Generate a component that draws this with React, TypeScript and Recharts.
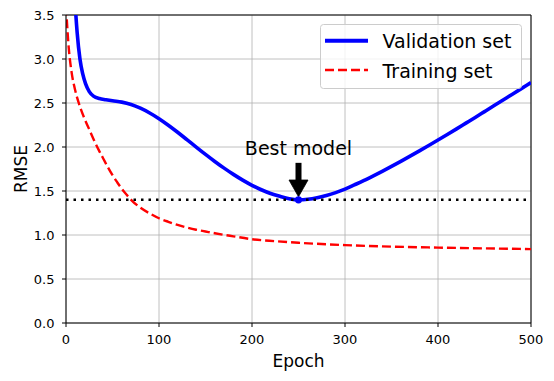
import React from 'react';
import { LineChart, Line, XAxis, YAxis, CartesianGrid, ReferenceLine, ReferenceDot, Legend } from 'recharts';

const validationEpochs = [6, 8, 10, 12, 15, 18, 21, 25, 30, 36, 43, 50, 60, 70, 80, 90, 100, 110, 120, 130, 140, 150, 160, 170, 180, 190, 200, 210, 220, 230, 240, 250, 260, 270, 280, 290, 300, 310, 320, 330, 340, 350, 360, 370, 380, 390, 400, 410, 420, 430, 440, 450, 460, 470, 480, 490, 500];
const validationRmse = [4.6, 4.0, 3.6, 3.3, 3.0, 2.83, 2.72, 2.63, 2.575, 2.55, 2.537, 2.525, 2.51, 2.483, 2.441, 2.387, 2.322, 2.248, 2.168, 2.084, 1.999, 1.916, 1.836, 1.76, 1.689, 1.624, 1.565, 1.514, 1.472, 1.44, 1.413, 1.4, 1.406, 1.423, 1.449, 1.482, 1.522, 1.569, 1.617, 1.669, 1.723, 1.779, 1.837, 1.896, 1.956, 2.017, 2.079, 2.142, 2.206, 2.271, 2.336, 2.402, 2.468, 2.534, 2.6, 2.666, 2.732];

const trainingEpochs = [0, 3, 6, 10, 15, 20, 25, 30, 35, 40, 45, 50, 55, 60, 65, 70, 80, 90, 100, 110, 120, 130, 140, 150, 160, 180, 200, 225, 250, 300, 350, 400, 450, 500];
const trainingRmse = [3.6, 3.12, 2.85, 2.64, 2.46, 2.32, 2.2, 2.08, 1.97, 1.87, 1.77, 1.68, 1.6, 1.525, 1.46, 1.4, 1.31, 1.245, 1.19, 1.15, 1.115, 1.085, 1.06, 1.04, 1.02, 0.985, 0.952, 0.93, 0.912, 0.885, 0.868, 0.857, 0.848, 0.84];

const xTicks = [0, 100, 200, 300, 400, 500];
const yTicks = [0, 0.5, 1.0, 1.5, 2.0, 2.5, 3.0, 3.5];
const seriesNames = ['Validation set', 'Training set'];
const seriesColors = ['#0000ff', '#ff0000'];
const xLabel = 'Epoch';
const yLabel = 'RMSE';

const bestEpoch = 250;
const bestRmse = 1.4;
const annotationText = 'Best model';
const annotationTextY = 1.91;
const arrowTopY = 1.82;
const arrowHeadBaseY = 1.625;
const arrowTipY = 1.435;

const validationData = validationEpochs.map((e, i) => ({ epoch: e, rmse: validationRmse[i] }));
const trainingData = trainingEpochs.map((e, i) => ({ epoch: e, rmse: trainingRmse[i] }));

const FONT = 'DejaVu Sans';

const XTitle = (props: any) => {
  const { viewBox } = props;
  if (!viewBox) return null;
  return (
    <text x={viewBox.x + viewBox.width / 2} y={viewBox.y + 44} textAnchor="middle" fontSize={17} fontFamily={FONT} fill="#000">
      {xLabel}
    </text>
  );
};

const YTitle = (props: any) => {
  const { viewBox } = props;
  if (!viewBox) return null;
  const cx = viewBox.x + 27;
  const cy = viewBox.y + viewBox.height / 2;
  return (
    <text x={cx} y={cy} transform={`rotate(-90 ${cx} ${cy})`} textAnchor="middle" fontSize={17} fontFamily={FONT} fill="#000">
      {yLabel}
    </text>
  );
};

const LegendBox = () => (
  <svg width={202} height={65} style={{ display: 'block' }}>
    <rect x={0.5} y={0.5} width={201} height={64} rx={3} ry={3} fill="rgba(255,255,255,0.8)" stroke="#cccccc" strokeWidth={1} />
    <line x1={5} x2={48} y1={16.7} y2={16.7} stroke={seriesColors[0]} strokeWidth={4} />
    <text x={62.5} y={24.3} fontSize={19} fontFamily={FONT} fill="#000">{seriesNames[0]}</text>
    <line x1={5} x2={48} y1={46} y2={46} stroke={seriesColors[1]} strokeWidth={2.5} strokeDasharray="9 4" />
    <text x={62.5} y={53.7} fontSize={19} fontFamily={FONT} fill="#000">{seriesNames[1]}</text>
  </svg>
);

export default function App() {
  return (
    <div style={{ position: 'absolute', left: 0, top: 0, background: '#fff' }}>
      <LineChart width={554} height={381} margin={{ top: 15, right: 23, bottom: 0, left: 0 }} style={{ fontFamily: FONT }}>
        <CartesianGrid stroke="#b0b0b0" strokeWidth={0.8} />
        <XAxis
          dataKey="epoch"
          type="number"
          domain={[0, 500]}
          ticks={xTicks}
          allowDataOverflow
          height={58}
          tickSize={4}
          tickMargin={8}
          stroke="#000"
          tick={{ fill: '#000', fontSize: 13, fontFamily: FONT }}
          label={<XTitle />}
        />
        <YAxis
          type="number"
          domain={[0, 3.5]}
          ticks={yTicks}
          allowDataOverflow
          width={66}
          tickSize={4}
          tickMargin={7.5}
          stroke="#000"
          tick={{ fill: '#000', fontSize: 13, fontFamily: FONT }}
          tickFormatter={(v: number) => v.toFixed(1)}
          label={<YTitle />}
        />
        <ReferenceLine y={3.5} stroke="#000" strokeWidth={1} />
        <ReferenceLine x={500} stroke="#000" strokeWidth={1} />
        <Line
          data={validationData}
          dataKey="rmse"
          name={seriesNames[0]}
          type="monotone"
          stroke={seriesColors[0]}
          strokeWidth={3.6}
          dot={false}
          activeDot={false}
          isAnimationActive={false}
        />
        <Line
          data={trainingData}
          dataKey="rmse"
          name={seriesNames[1]}
          type="monotone"
          stroke={seriesColors[1]}
          strokeWidth={2.4}
          strokeDasharray="9 4"
          dot={false}
          activeDot={false}
          isAnimationActive={false}
        />
        <ReferenceLine y={bestRmse} stroke="#000" strokeWidth={2.5} strokeDasharray="2.5 5" />
        <ReferenceLine
          segment={[{ x: bestEpoch, y: arrowTopY }, { x: bestEpoch, y: arrowHeadBaseY }]}
          stroke="#000"
          strokeWidth={6}
        />
        <ReferenceDot
          x={bestEpoch}
          y={arrowTipY}
          r={1}
          shape={(p: any) => (
            <path d={`M${p.cx},${p.cy} L${p.cx - 9.5},${p.cy - 16.7} L${p.cx + 9.5},${p.cy - 16.7} Z`} fill="#000" stroke="#000" strokeWidth={0.8} />
          )}
        />
        <ReferenceDot x={bestEpoch} y={bestRmse} r={3.6} fill={seriesColors[0]} stroke="none" />
        <ReferenceDot
          x={bestEpoch}
          y={annotationTextY}
          r={1}
          shape={(p: any) => (
            <text x={p.cx} y={p.cy} textAnchor="middle" fontSize={19} fontFamily={FONT} fill="#000">
              {annotationText}
            </text>
          )}
        />
        <Legend
          layout="vertical"
          align="center"
          verticalAlign="middle"
          wrapperStyle={{ left: 320, top: 24, width: 202, height: 65 }}
          content={() => <LegendBox />}
        />
      </LineChart>
    </div>
  );
}
